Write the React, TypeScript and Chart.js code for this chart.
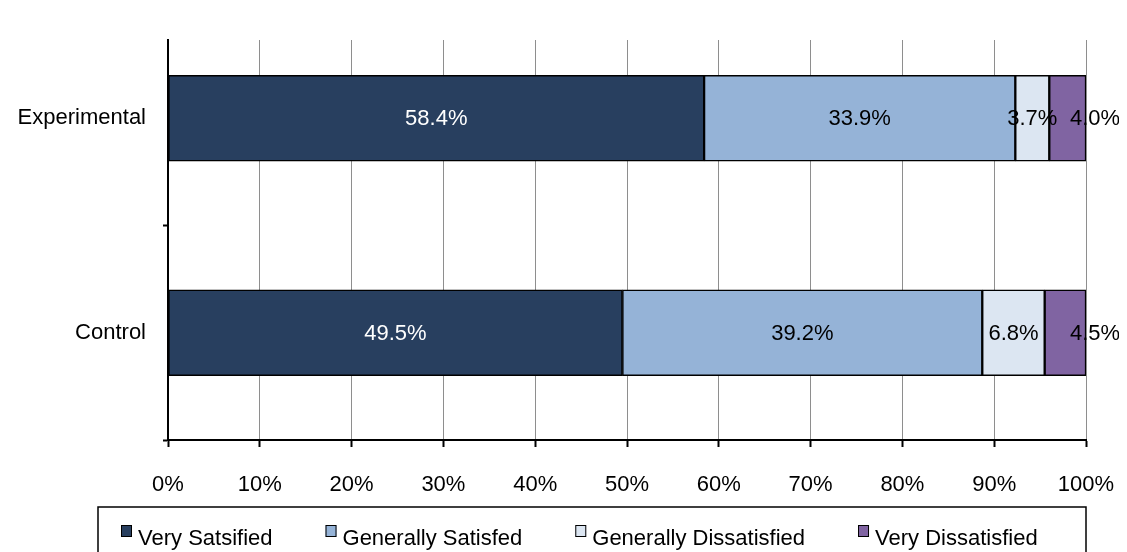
import React, { useEffect, useRef } from "react";
import { Chart, registerables } from "chart.js";

Chart.register(...registerables);

const categories = ["Experimental", "Control"];
const seriesNames = ["Very Satsified", "Generally Satisfed", "Generally Dissatisfied", "Very Dissatisfied"];
const verySatisfied = [58.4, 49.5];
const generallySatisfied = [33.9, 39.2];
const generallyDissatisfied = [3.7, 6.8];
const veryDissatisfied = [4.0, 4.5];
const xTicks = [0, 10, 20, 30, 40, 50, 60, 70, 80, 90, 100];

const seriesValues = [verySatisfied, generallySatisfied, generallyDissatisfied, veryDissatisfied];
const colors = ["#283F5F", "#95B3D7", "#DCE6F2", "#8064A2"];
const labelColors = ["#FFFFFF", "#000000", "#000000", "#000000"];
const FONT = "'Liberation Sans', Arial, sans-serif";
const FS = 22;

const dataLabelPlugin = {
  id: "dataLabels",
  afterDatasetsDraw(chart: any) {
    const ctx = chart.ctx;
    ctx.save();
    ctx.font = `${FS}px ${FONT}`;
    ctx.textAlign = "center";
    ctx.textBaseline = "middle";
    const n = chart.data.datasets.length;
    chart.data.datasets.forEach((ds: any, i: number) => {
      const meta = chart.getDatasetMeta(i);
      meta.data.forEach((bar: any, j: number) => {
        const v = ds.data[j].x;
        let x = (bar.x + bar.base) / 2;
        if (i === n - 1) x = chart.chartArea.right + 9;
        ctx.fillStyle = labelColors[i];
        ctx.fillText(`${v.toFixed(1)}%`, x, bar.y + 1);
      });
    });
    ctx.restore();
  },
};

const legendPlugin = {
  id: "boxLegend",
  afterDraw(chart: any) {
    const ctx = chart.ctx;
    const left = chart.chartArea.left - 70;
    const right = chart.chartArea.right;
    const top = 499;
    ctx.save();
    ctx.strokeStyle = "#000";
    ctx.lineWidth = 1.5;
    ctx.strokeRect(left, top, right - left, 80);
    ctx.font = `${FS}px ${FONT}`;
    ctx.textAlign = "left";
    ctx.textBaseline = "alphabetic";
    let x = left + 23;
    chart.data.datasets.forEach((ds: any, i: number) => {
      ctx.fillStyle = ds.backgroundColor;
      ctx.fillRect(x, 517, 11, 12);
      ctx.lineWidth = 1;
      ctx.strokeStyle = "#000";
      ctx.strokeRect(x + 0.5, 517.5, 10, 11);
      ctx.fillStyle = "#000";
      ctx.fillText(ds.label, x + 17, 537);
      const w = ctx.measureText(ds.label).width;
      x = x + 17 + w + 53;
    });
    ctx.restore();
  },
};

export default function App() {
  const ref = useRef<HTMLCanvasElement | null>(null);
  useEffect(() => {
    document.documentElement.style.overflow = "hidden";
    if (!ref.current) return;
    const chart = new Chart(ref.current, {
      type: "bar",
      data: {
        datasets: seriesValues.map((vals, i) => ({
          label: seriesNames[i],
          data: vals.map((v, j) => ({ x: v, y: j })),
          backgroundColor: colors[i],
          borderColor: "#000",
          borderWidth: 1.5,
          borderSkipped: false,
          barThickness: 86,
          grouped: false,
        })),
      },
      options: {
        indexAxis: "y",
        animation: false,
        responsive: false,
        maintainAspectRatio: false,
        layout: { padding: { top: 32, right: 41, left: 0, bottom: 0 } },
        plugins: { legend: { display: false }, tooltip: { enabled: false } },
        scales: {
          x: {
            type: "linear",
            stacked: true,
            min: 0,
            max: 100,
            afterBuildTicks: (scale: any) => {
              scale.ticks = xTicks.map((v) => ({ value: v }));
            },
            afterFit: (scale: any) => {
              scale.height = 112;
              scale.paddingLeft = 0;
              scale.paddingRight = 0;
            },
            ticks: {
              font: { family: FONT, size: FS },
              color: "#000",
              padding: 25,
              maxRotation: 0,
              callback: (v: any) => `${v}%`,
            },
            grid: {
              color: "#8E8E8E",
              lineWidth: 1,
              tickColor: "#000",
              tickLength: 7,
              tickWidth: 2,
            },
            border: { color: "#000", width: 2 },
          },
          y: {
            type: "linear",
            offset: false,
            reverse: true,
            min: -0.365,
            max: 1.5,
            afterBuildTicks: (scale: any) => {
              scale.ticks = [0, 0.5, 1, 1.5].map((v) => ({ value: v }));
            },
            afterFit: (scale: any) => {
              scale.width = 160;
            },
            ticks: {
              font: { family: FONT, size: FS },
              color: "#000",
              padding: 17,
              callback: (v: any) => (Number.isInteger(v) ? categories[v] : ""),
            },
            grid: {
              offset: false,
              drawOnChartArea: false,
              tickLength: 5,
              tickWidth: 2,
              tickColor: (c: any) => (c.tick && Number.isInteger(c.tick.value) ? "rgba(0,0,0,0)" : "#000"),
            },
            border: { color: "#000", width: 2 },
          },
        },
      },
      plugins: [dataLabelPlugin, legendPlugin],
    } as any);
    return () => chart.destroy();
  }, []);
  return (
    <div style={{ width: 1119, height: 544, position: "relative" }}>
      <canvas ref={ref} width={1119} height={544} style={{ width: 1119, height: 544, display: "block" }} />
    </div>
  );
}
